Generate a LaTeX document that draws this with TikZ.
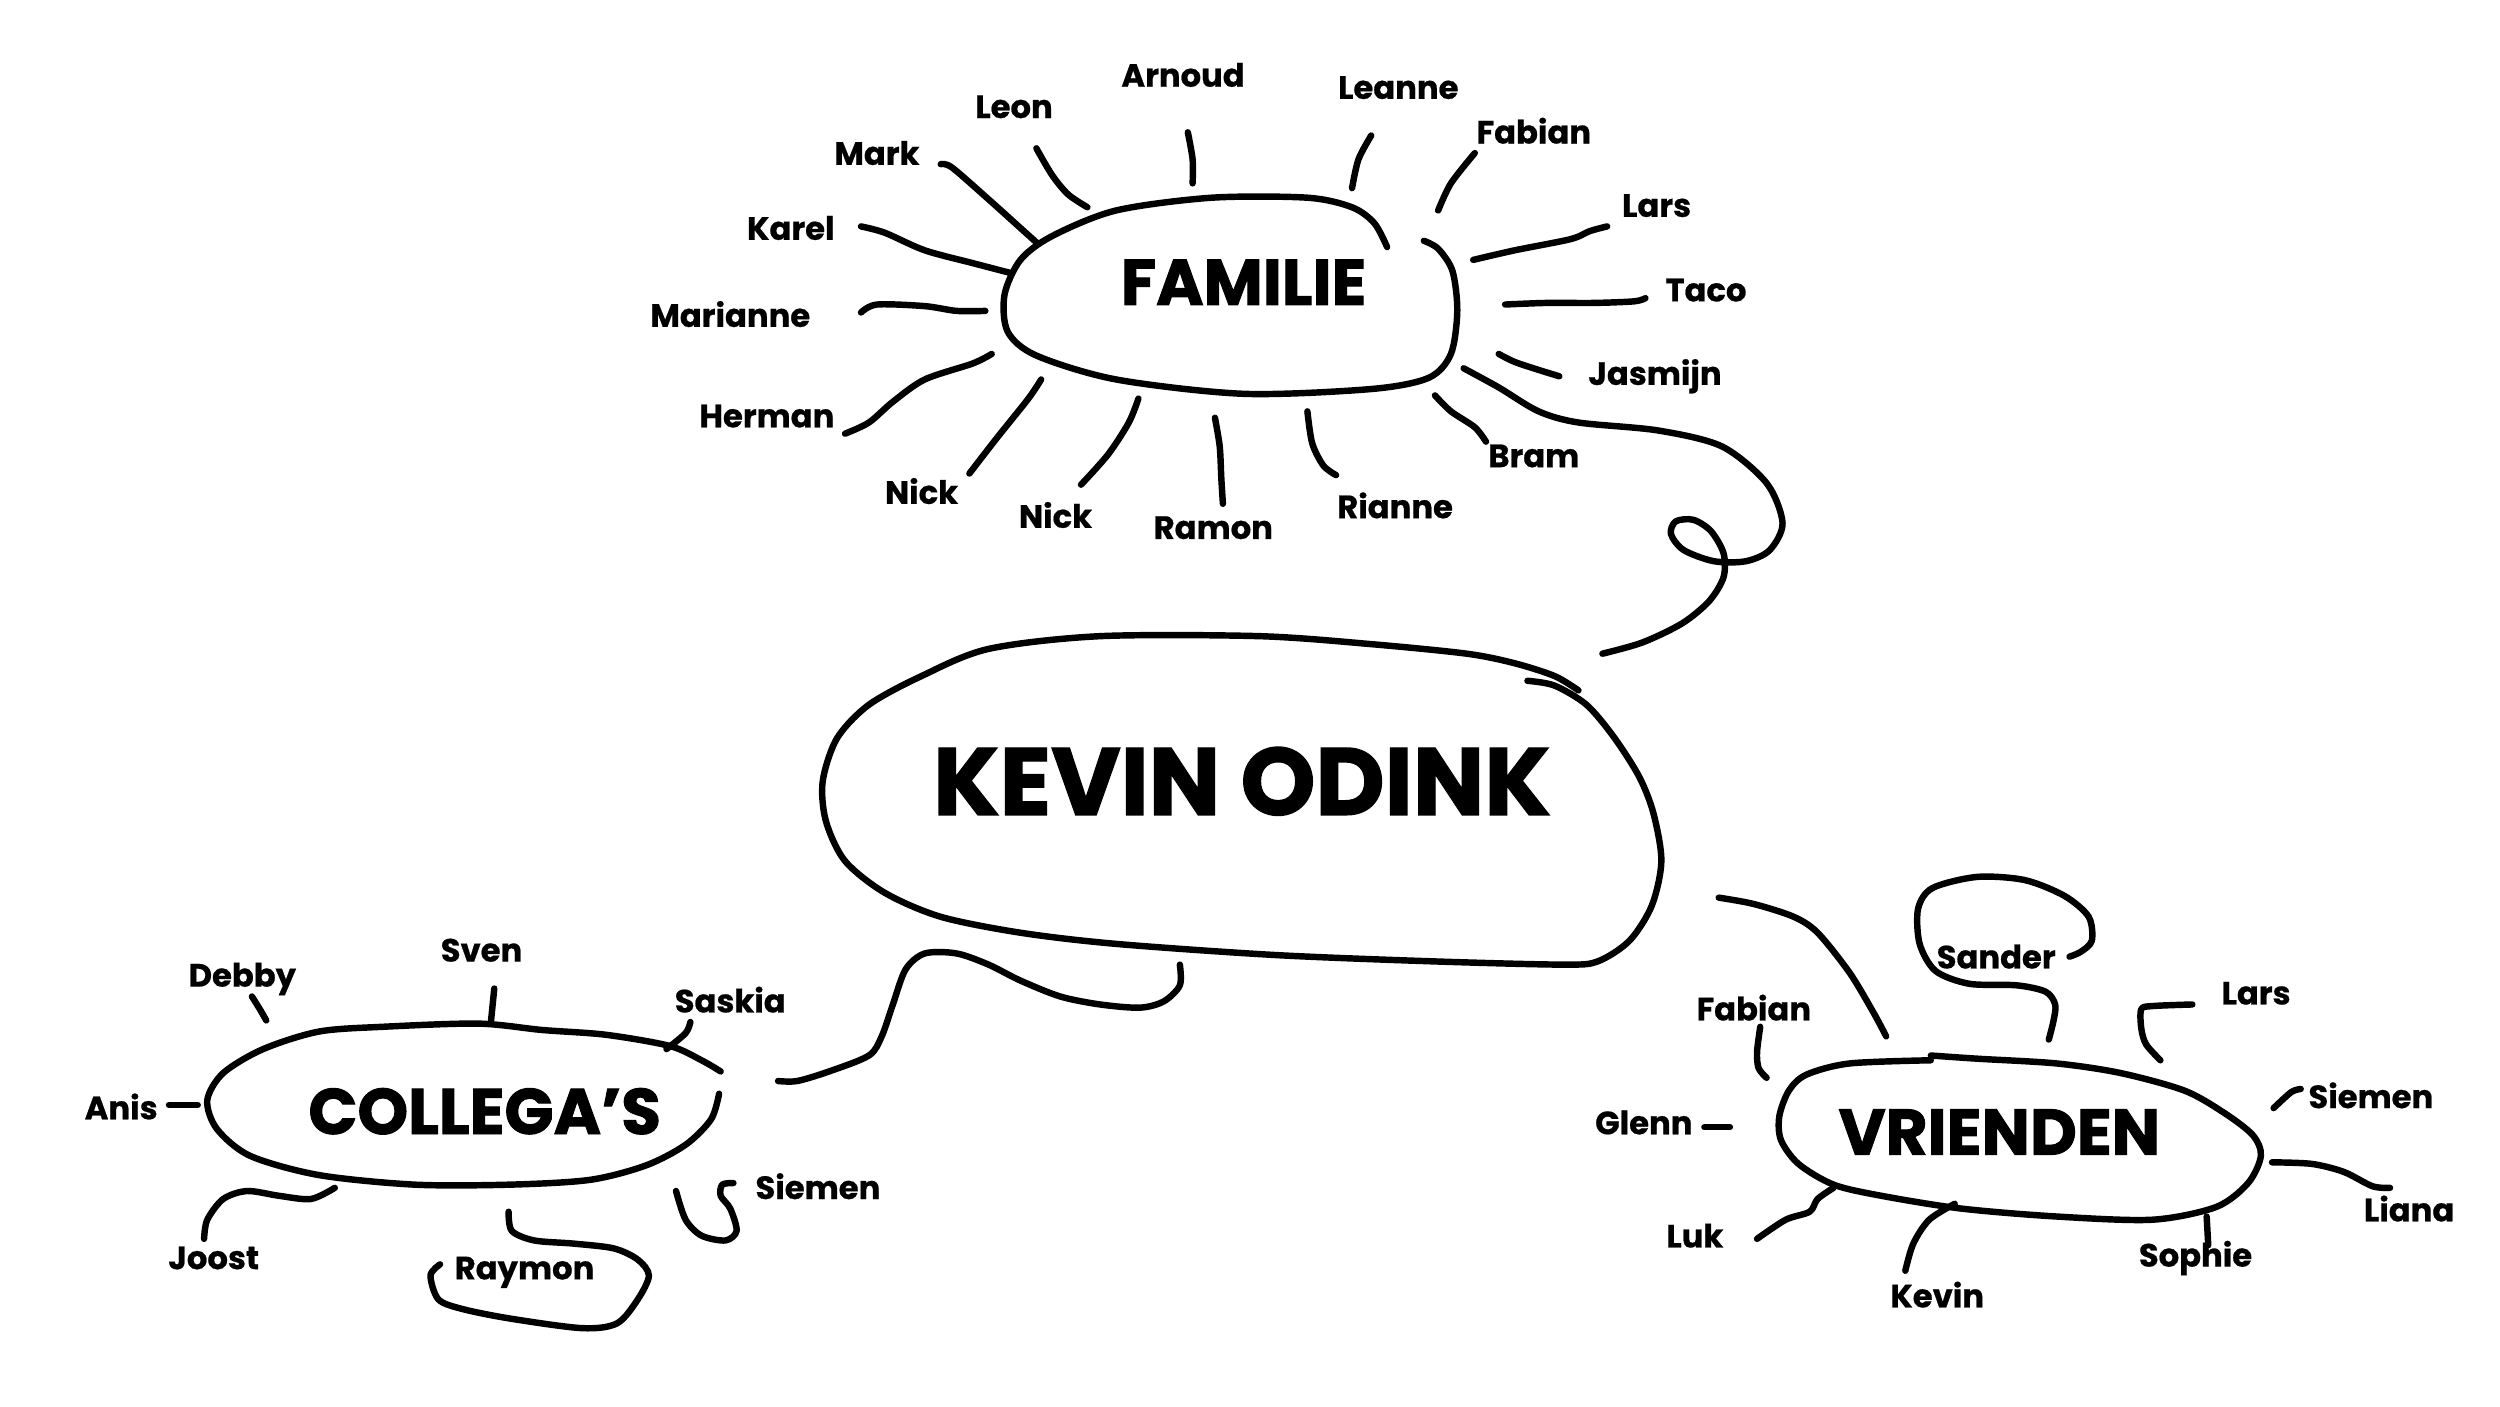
\documentclass[tikz,border=0pt]{standalone}
\usepackage{fontspec}
\setmainfont{Poppins}
\usetikzlibrary{positioning}
\tikzset{
  stroke/.style={line width=2.3pt, line cap=round, line join=round},
  person/.style={font=\fontsize{11.5}{12}\selectfont\bfseries\addfontfeature{FakeBold=0.6}, inner sep=0pt},
  group/.style={font=\fontsize{23}{25}\selectfont\bfseries\addfontfeature{FakeBold=1.5}, inner sep=0pt},
  centre/.style={font=\fontsize{34}{36}\selectfont\bfseries\addfontfeature{FakeBold=1.5}, inner sep=0pt}
}
\begin{document}
\begin{tikzpicture}[x=0.02cm, y=-0.02cm]
\useasboundingbox (0,0) rectangle (1568,882);
\node (kevin) at (779,490) [centre] {KEVIN ODINK};
\node (familie) at (780,177) [group] {FAMILIE};
\node (collegas) at (304,697) [group] {COLLEGA’S};
\node (vrienden) at (1254,710) [group] {VRIENDEN};
\node (famArnoud) at (742,47) [person] {Arnoud};
\node (famLeon) at (636,67) [person] {Leon};
\node (famLeanne) at (877,55) [person] {Leanne};
\node (famFabian) at (962,82) [person] {Fabian};
\node (famMark) at (550,96) [person] {Mark};
\node (famKarel) at (496,143) [person] {Karel};
\node (famLars) at (1039,129) [person] {Lars};
\node (famTaco) at (1070,182) [person] {Taco};
\node (famMarianne) at (458,197) [person] {Marianne};
\node (famJasmijn) at (1038,236) [person] {Jasmijn};
\node (famHerman) at (481,261) [person] {Herman};
\node (famBram) at (962,286) [person] {Bram};
\node (famNickA) at (578,308) [person] {Nick};
\node (famNickB) at (662,323) [person] {Nick};
\node (famRamon) at (761,331) [person] {Ramon};
\node (famRianne) at (875,317) [person] {Rianne};
\node (colDebby) at (152,614) [person] {Debby};
\node (colSven) at (302,596) [person] {Sven};
\node (colSaskia) at (458,627) [person] {Saskia};
\node (colAnis) at (76,694) [person] {Anis};
\node (colSiemen) at (513,744) [person] {Siemen};
\node (colJoost) at (134,789) [person] {Joost};
\node (colRaymon) at (329,798) [person] {Raymon};
\node (vriSander) at (1252,600) [person] {Sander};
\node (vriFabian) at (1100,632) [person] {Fabian};
\node (vriLars) at (1415,623) [person] {Lars};
\node (vriSiemen) at (1487,687) [person] {Siemen};
\node (vriGlenn) at (1031,704) [person] {Glenn};
\node (vriLuk) at (1063,775) [person] {Luk};
\node (vriKevin) at (1215,812) [person] {Kevin};
\node (vriSophie) at (1377,789) [person] {Sophie};
\node (vriLiana) at (1511,758) [person] {Liana};
\draw [stroke] plot [smooth] coordinates {(870,155) (862,140) (848,130) (820,124) (760,124) (700,132) (660,148) (640,163) (630,185) (632,208) (650,223) (700,238) (780,247) (860,244) (896,237) (910,222) (914,195) (911,170) (902,156) (893,151)};
\draw [stroke] plot [smooth] coordinates {(745,83) (748,100) (748,115)};
\draw [stroke] plot [smooth] coordinates {(650,93) (660,110) (670,122) (682,130)};
\draw [stroke] plot [smooth] coordinates {(590,103) (597,105) (620,125) (640,143) (650,152)};
\draw [stroke] plot [smooth] coordinates {(540,142) (555,146) (580,157) (610,165) (633,171)};
\draw [stroke] plot [smooth] coordinates {(540,196) (550,191) (580,192) (600,195) (618,195)};
\draw [stroke] plot [smooth] coordinates {(530,272) (545,265) (560,252) (580,238) (610,228) (622,222)};
\draw [stroke] plot [smooth] coordinates {(608,297) (625,275) (645,250) (653,238)};
\draw [stroke] plot [smooth] coordinates {(678,304) (695,285) (708,265) (714,250)};
\draw [stroke] plot [smooth] coordinates {(762,262) (765,280) (766,300) (767,316)};
\draw [stroke] plot [smooth] coordinates {(820,258) (823,278) (830,292) (838,298)};
\draw [stroke] plot [smooth] coordinates {(900,248) (910,258) (925,268) (932,277)};
\draw [stroke] plot [smooth] coordinates {(940,222) (950,227) (965,232) (978,236)};
\draw [stroke] plot [smooth] coordinates {(944,191) (970,190) (1000,190) (1025,189) (1032,187)};
\draw [stroke] plot [smooth] coordinates {(924,163) (950,157) (985,150) (997,145) (1008,142)};
\draw [stroke] plot [smooth] coordinates {(902,132) (910,115) (925,96)};
\draw [stroke] plot [smooth] coordinates {(848,118) (852,100) (860,85)};
\draw [stroke] plot [smooth] coordinates {(918,231) (940,243) (965,258) (990,265) (1040,270) (1080,280) (1108,303) (1118,328) (1110,345) (1095,352) (1075,352) (1056,345) (1048,335) (1051,327) (1062,326) (1073,333) (1081,347) (1081,362) (1072,377) (1055,391) (1030,403) (1005,410)};
\draw [stroke] plot [smooth] coordinates {(990,433) (975,424) (950,416) (920,410) (860,404) (790,399) (690,399) (620,407) (578,424) (545,442) (525,463) (516,490) (518,515) (530,540) (555,560) (590,575) (640,585) (700,592) (800,599) (900,603) (980,605) (1002,603) (1022,590) (1036,568) (1042,540) (1037,510) (1028,487) (1012,462) (995,442) (975,430) (958,427)};
\draw [stroke] plot [smooth] coordinates {(740,605) (740,618) (730,628) (715,632) (690,630) (665,625) (640,615) (620,605) (600,598) (580,598) (568,608) (560,630) (553,650) (545,662) (520,672) (500,678) (488,678)};
\draw [stroke] plot [smooth] coordinates {(1078,563) (1100,567) (1125,575) (1140,585) (1160,610) (1175,635) (1183,650)};
\draw [stroke] plot [smooth] coordinates {(452,672) (440,665) (420,656) (380,649) (340,646) (300,642) (240,644) (200,647) (165,658) (140,673) (130,690) (136,708) (157,725) (200,737) (260,743) (320,743) (370,740) (405,731) (430,718) (446,702) (451,686)};
\draw [stroke] plot [smooth] coordinates {(158,625) (163,633) (167,640)};
\draw [stroke] plot [smooth] coordinates {(310,620) (309,630) (308,640)};
\draw [stroke] plot [smooth] coordinates {(433,641) (430,648) (418,658)};
\draw [stroke] plot [smooth] coordinates {(106,693) (124,693)};
\draw [stroke] plot [smooth] coordinates {(128,777) (130,765) (140,752) (155,747) (175,750) (195,752) (210,745)};
\draw [stroke] plot [smooth] coordinates {(319,760) (321,772) (335,778) (360,780) (385,783) (400,790) (407,800) (400,815) (387,830) (365,833) (320,827) (290,821) (275,815) (270,800) (276,793)};
\draw [stroke] plot [smooth] coordinates {(424,747) (430,765) (440,775) (455,778) (462,772) (458,758) (452,750) (453,743) (460,742)};
\draw [stroke] plot [smooth] coordinates {(1211,662) (1240,664) (1290,667) (1330,673) (1370,684) (1395,698) (1413,712) (1418,725) (1410,742) (1390,757) (1350,765) (1290,763) (1230,758) (1180,750) (1150,743) (1128,730) (1117,715) (1116,700) (1122,684) (1133,674) (1160,667) (1211,665)};
\draw [stroke] plot [smooth] coordinates {(1104,644) (1102,660) (1103,670) (1108,676)};
\draw [stroke] plot [smooth] coordinates {(1069,707) (1085,707)};
\draw [stroke] plot [smooth] coordinates {(1102,777) (1120,765) (1135,760) (1140,752) (1150,745)};
\draw [stroke] plot [smooth] coordinates {(1195,797) (1200,780) (1210,765) (1226,755)};
\draw [stroke] plot [smooth] coordinates {(1384,763) (1385,781)};
\draw [stroke] plot [smooth] coordinates {(1425,729) (1450,730) (1470,735) (1488,744) (1499,745)};
\draw [stroke] plot [smooth] coordinates {(1426,695) (1437,685) (1443,683)};
\draw [stroke] plot [smooth] coordinates {(1355,665) (1346,655) (1343,645) (1343,633) (1350,631) (1375,630)};
\draw [stroke] plot [smooth] coordinates {(1285,652) (1288,640) (1289,630) (1283,622) (1265,618) (1235,617) (1214,609) (1204,592) (1203,570) (1212,557) (1240,550) (1270,552) (1295,562) (1310,575) (1312,590) (1305,597) (1298,600)};
\end{tikzpicture}
\end{document}
